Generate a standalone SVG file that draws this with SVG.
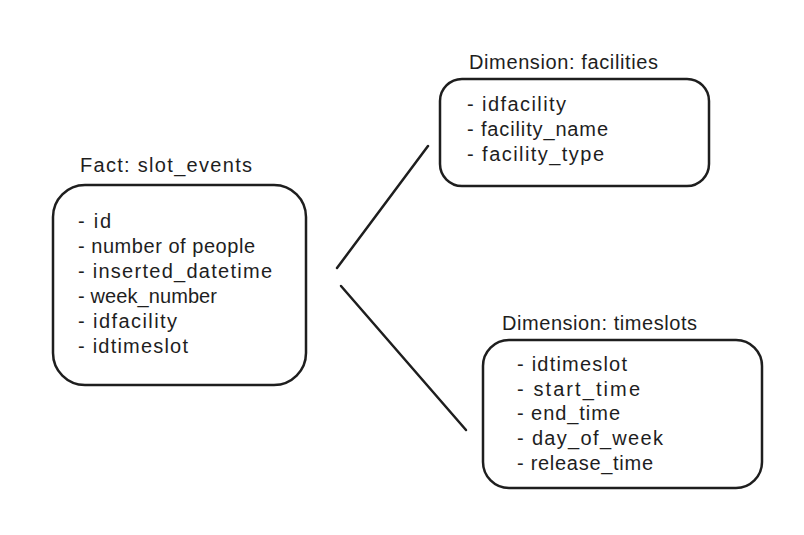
<svg xmlns="http://www.w3.org/2000/svg" width="804" height="535" viewBox="0 0 804 535">
<style>
.box{fill:none;stroke:#1e1e1e;stroke-width:2.5;stroke-linecap:round}
.t{font-family:"Liberation Sans",Arial,sans-serif;font-size:20px;fill:#1e1e1e}
.c{fill:none;stroke:#1e1e1e;stroke-width:2.5;stroke-linecap:round}
</style>
<rect width="804" height="535" fill="#ffffff"/>
<g id="fact">
<text class="t" x="80" y="172" textLength="172" lengthAdjust="spacing">Fact: slot_events</text>
<rect class="box" x="53" y="185" width="253" height="200" rx="32"/>
<text class="t" x="78" y="228" textLength="33" lengthAdjust="spacing">- id</text>
<text class="t" x="78" y="253" textLength="177" lengthAdjust="spacing">- number of people</text>
<text class="t" x="78" y="278" textLength="194" lengthAdjust="spacing">- inserted_datetime</text>
<text class="t" x="78" y="303" textLength="139" lengthAdjust="spacing">- week_number</text>
<text class="t" x="78" y="328" textLength="99" lengthAdjust="spacing">- idfacility</text>
<text class="t" x="78" y="353" textLength="110" lengthAdjust="spacing">- idtimeslot</text>
</g>
<g id="facilities">
<text class="t" x="469" y="69" textLength="189" lengthAdjust="spacing">Dimension: facilities</text>
<rect class="box" x="440" y="79" width="269" height="107" rx="22"/>
<text class="t" x="467" y="111" textLength="99" lengthAdjust="spacing">- idfacility</text>
<text class="t" x="467" y="136" textLength="141" lengthAdjust="spacing">- facility_name</text>
<text class="t" x="467" y="161" textLength="137" lengthAdjust="spacing">- facility_type</text>
</g>
<g id="timeslots">
<text class="t" x="502" y="330" textLength="195" lengthAdjust="spacing">Dimension: timeslots</text>
<rect class="box" x="483" y="340" width="279" height="148" rx="26"/>
<text class="t" x="517" y="371" textLength="110" lengthAdjust="spacing">- idtimeslot</text>
<text class="t" x="517" y="396" textLength="123" lengthAdjust="spacing">- start_time</text>
<text class="t" x="517" y="420" textLength="103" lengthAdjust="spacing">- end_time</text>
<text class="t" x="517" y="445" textLength="146" lengthAdjust="spacing">- day_of_week</text>
<text class="t" x="517" y="470" textLength="136" lengthAdjust="spacing">- release_time</text>
</g>
<g id="connectors">
<line class="c" x1="337" y1="268" x2="428" y2="146"/>
<line class="c" x1="341" y1="286" x2="466" y2="430"/>
</g>
</svg>
